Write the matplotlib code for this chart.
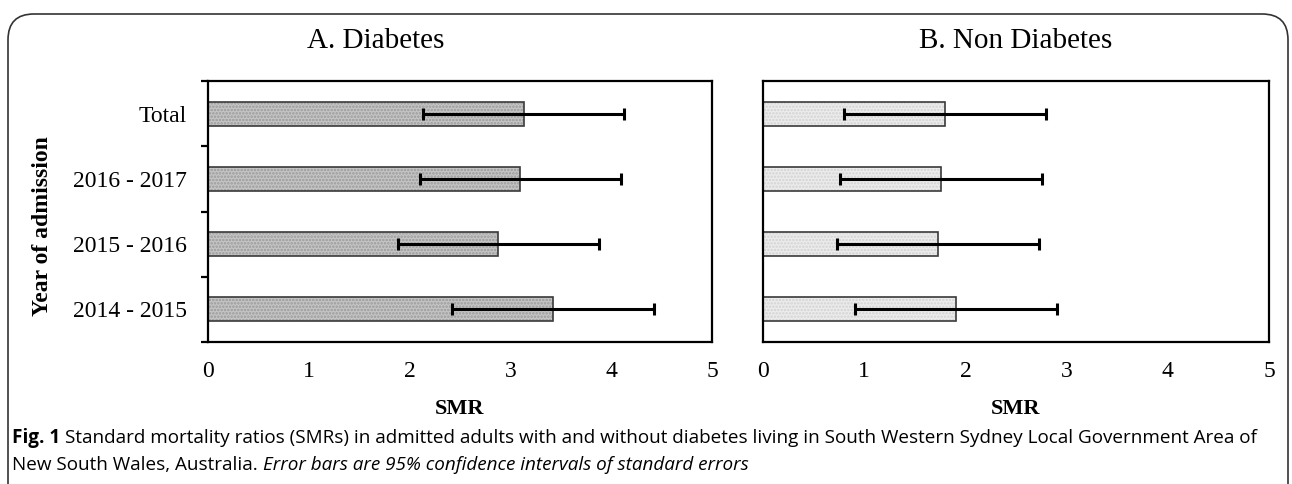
import numpy as np
import matplotlib
matplotlib.use("Agg")
import matplotlib.pyplot as plt
from matplotlib.patches import FancyBboxPatch

# datos
categorias = ["2014 - 2015", "2015 - 2016", "2016 - 2017", "Total"]
smr_diabetes = [3.42, 2.88, 3.10, 3.13]
err_diabetes = [1.00, 1.00, 1.00, 1.00]
smr_no_diabetes = [1.91, 1.73, 1.76, 1.80]
err_no_diabetes = [1.00, 1.00, 1.00, 1.00]

titulos = ["A. Diabetes", "B. Non Diabetes"]
ticks_x = [0, 1, 2, 3, 4, 5]

plt.rcParams['font.family'] = ['Liberation Serif', 'DejaVu Serif']
plt.rcParams['hatch.linewidth'] = 1.2

fig = plt.figure(figsize=(12.92, 4.84), dpi=100)

# marco redondeado
marco = FancyBboxPatch((8 / 1292, -0.2), 1280 / 1292, 1.2 - 14 / 484,
                       boxstyle="round,pad=0,rounding_size=0.02",
                       transform=fig.transFigure, fill=False,
                       edgecolor='#333333', linewidth=1.2, mutation_aspect=2.67)
fig.patches.append(marco)

ax_a = fig.add_axes([208 / 1292, 1 - 342 / 484, 504 / 1292, 261 / 484])
ax_b = fig.add_axes([763 / 1292, 1 - 342 / 484, 506 / 1292, 261 / 484])

y = np.arange(len(categorias))

estilos = [
    (ax_a, smr_diabetes, err_diabetes, '#c4c4c4', '#9a9a9a'),
    (ax_b, smr_no_diabetes, err_no_diabetes, '#ececec', '#d2d2d2'),
]

for ax, vals, errs, cara, trama in estilos:
    barras = ax.barh(y, vals, height=0.37, color=cara, edgecolor='#3a3a3a',
                     linewidth=1.2, hatch='.....', zorder=2)
    for b in barras:
        b._hatch_color = matplotlib.colors.to_rgba(trama)
    ax.errorbar(vals, y, xerr=errs, fmt='none', ecolor='black',
                elinewidth=2.2, capsize=4, capthick=2.2, zorder=3)
    ax.set_xlim(0, 5)
    ax.set_ylim(-0.5, len(categorias) - 0.5)
    ax.set_xticks(ticks_x)
    ax.set_xticklabels([str(t) for t in ticks_x], fontsize=17)
    ax.tick_params(axis='x', length=0, pad=14)
    for s in ax.spines.values():
        s.set_linewidth(1.6)
        s.set_color('black')
    ax.set_xlabel("SMR", fontsize=16, fontweight='bold', labelpad=12)

ax_a.set_yticks(y)
ax_a.set_yticklabels(categorias, fontsize=17)
ax_a.tick_params(axis='y', which='major', length=0, pad=15)
ax_a.set_yticks(np.arange(-0.5, len(categorias)), minor=True)
ax_a.tick_params(axis='y', which='minor', length=5, width=1.6, direction='out')
ax_a.set_ylabel("Year of admission", fontsize=17, fontweight='bold')
ax_a.yaxis.set_label_coords(-155 / 504, 0.444)

ax_b.set_yticks([])

fig.text(376 / 1292, 1 - 41 / 484, titulos[0], fontsize=21, ha='center', va='center')
fig.text(1016 / 1292, 1 - 41 / 484, titulos[1], fontsize=21, ha='center', va='center')

# leyenda de la figura
sans = ['Open Sans', 'DejaVu Sans']
tam = 13.6
t1 = fig.text(12 / 1292, 1 - 438 / 484, "Fig. 1", fontsize=tam, fontweight='bold',
              family=sans, va='center', ha='left')
t2 = fig.text(12 / 1292, 1 - 465 / 484, "New South Wales, Australia. ",
              fontsize=tam, family=sans, va='center', ha='left')
fig.canvas.draw()
bb1 = t1.get_window_extent()
fig.text(bb1.x1 / fig.bbox.width + 5 / 1292, 1 - 438 / 484,
         "Standard mortality ratios (SMRs) in admitted adults with and without diabetes living in "
         "South Western Sydney Local Government Area of",
         fontsize=tam, family=sans, va='center', ha='left')
bb2 = t2.get_window_extent()
fig.text(bb2.x1 / fig.bbox.width, 1 - 465 / 484,
         "Error bars are 95% confidence intervals of standard errors",
         fontsize=tam, family=sans, style='italic', va='center', ha='left')

fig.savefig("out.png", dpi=100)
